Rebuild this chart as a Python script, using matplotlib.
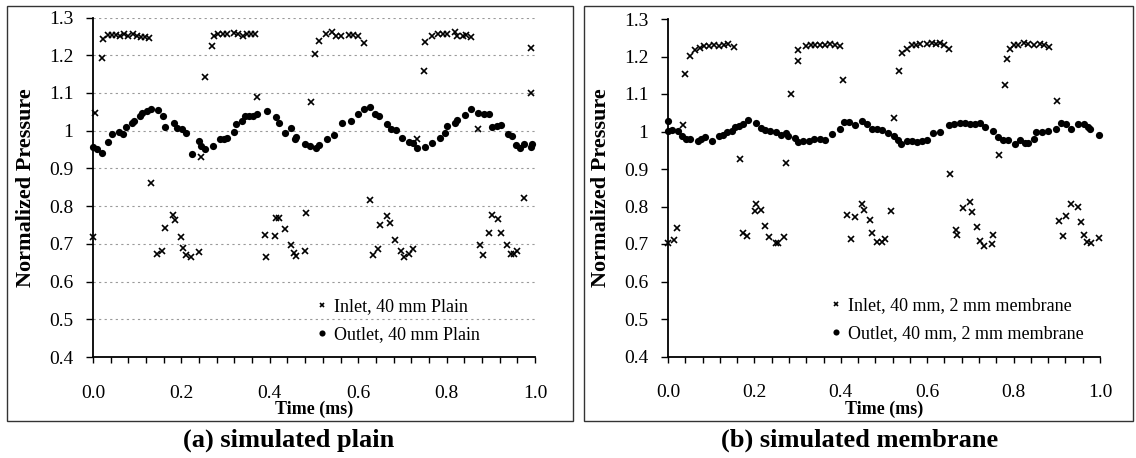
import matplotlib
matplotlib.use("Agg")
import matplotlib.pyplot as plt
from matplotlib.patches import Rectangle
import numpy as np

# ---------------- data ----------------
plain_inlet_t = [0.000, 0.005, 0.020, 0.023, 0.034, 0.043, 0.053, 0.062, 0.070, 0.079, 0.090, 0.100,
                 0.109, 0.117, 0.126, 0.132, 0.145, 0.156, 0.164, 0.181, 0.185, 0.198, 0.204, 0.211,
                 0.222, 0.240, 0.244, 0.254, 0.269, 0.274, 0.283, 0.294, 0.304, 0.318, 0.328, 0.339,
                 0.349, 0.358, 0.367, 0.372, 0.390, 0.392, 0.411, 0.415, 0.420, 0.434, 0.447, 0.454,
                 0.460, 0.479, 0.483, 0.493, 0.502, 0.512, 0.527, 0.540, 0.550, 0.560, 0.580, 0.589,
                 0.600, 0.614, 0.627, 0.634, 0.644, 0.649, 0.665, 0.671, 0.684, 0.696, 0.704, 0.716,
                 0.723, 0.734, 0.748, 0.752, 0.766, 0.781, 0.791, 0.800, 0.818, 0.823, 0.838, 0.845,
                 0.855, 0.872, 0.876, 0.882, 0.895, 0.902, 0.916, 0.922, 0.936, 0.946, 0.953, 0.960,
                 0.974, 0.991, 0.992]
plain_inlet_p = [0.717, 1.046, 1.192, 1.243, 1.254, 1.254, 1.254, 1.252, 1.256, 1.252, 1.256, 1.250,
                 1.249, 1.248, 1.245, 0.862, 0.673, 0.681, 0.742, 0.777, 0.762, 0.717, 0.689, 0.671,
                 0.666, 0.678, 0.930, 1.141, 1.225, 1.252, 1.255, 1.256, 1.255, 1.259, 1.255, 1.252,
                 1.255, 1.256, 1.256, 1.088, 0.724, 0.666, 0.721, 0.768, 0.768, 0.740, 0.697, 0.677,
                 0.669, 0.680, 0.782, 1.075, 1.203, 1.239, 1.255, 1.261, 1.252, 1.252, 1.254, 1.254,
                 1.252, 1.232, 0.817, 0.671, 0.686, 0.749, 0.773, 0.755, 0.710, 0.682, 0.664, 0.673,
                 0.687, 0.979, 1.157, 1.234, 1.252, 1.256, 1.256, 1.256, 1.261, 1.252, 1.252, 1.254,
                 1.248, 1.004, 0.697, 0.671, 0.728, 0.777, 0.766, 0.730, 0.696, 0.673, 0.673, 0.681,
                 0.822, 1.099, 1.219]

plain_outlet_t = [0.000, 0.010, 0.020, 0.035, 0.043, 0.058, 0.069, 0.074, 0.089, 0.092, 0.106, 0.111,
                  0.123, 0.132, 0.146, 0.158, 0.164, 0.183, 0.191, 0.201, 0.211, 0.225, 0.240, 0.245,
                  0.254, 0.271, 0.287, 0.296, 0.304, 0.319, 0.324, 0.336, 0.343, 0.354, 0.363, 0.372,
                  0.394, 0.413, 0.420, 0.434, 0.447, 0.456, 0.460, 0.480, 0.490, 0.505, 0.512, 0.529,
                  0.545, 0.563, 0.583, 0.600, 0.614, 0.627, 0.638, 0.648, 0.666, 0.674, 0.686, 0.698,
                  0.716, 0.723, 0.734, 0.750, 0.766, 0.785, 0.797, 0.800, 0.819, 0.823, 0.842, 0.855,
                  0.872, 0.885, 0.896, 0.902, 0.913, 0.923, 0.940, 0.947, 0.958, 0.966, 0.976, 0.990,
                  0.993]
plain_outlet_p = [0.957, 0.952, 0.941, 0.970, 0.990, 0.997, 0.990, 1.011, 1.020, 1.026, 1.039, 1.048,
                  1.051, 1.057, 1.054, 1.039, 1.011, 1.019, 1.008, 1.004, 0.993, 0.937, 0.972, 0.959,
                  0.952, 0.959, 0.977, 0.977, 0.980, 0.997, 1.017, 1.026, 1.039, 1.039, 1.039, 1.043,
                  1.052, 1.035, 1.021, 0.993, 1.006, 0.977, 0.983, 0.964, 0.959, 0.955, 0.962, 0.977,
                  0.988, 1.021, 1.026, 1.043, 1.057, 1.063, 1.043, 1.039, 1.017, 1.004, 1.001, 0.981,
                  0.971, 0.968, 0.955, 0.957, 0.968, 0.981, 0.995, 1.012, 1.021, 1.028, 1.042, 1.057,
                  1.048, 1.045, 1.045, 1.010, 1.012, 1.014, 0.990, 0.986, 0.961, 0.955, 0.965, 0.957,
                  0.965]

memb_inlet_t = [0.000, 0.015, 0.021, 0.034, 0.040, 0.052, 0.063, 0.073, 0.083, 0.094, 0.106, 0.117,
                0.129, 0.140, 0.152, 0.166, 0.173, 0.184, 0.202, 0.204, 0.216, 0.224, 0.233, 0.251,
                0.255, 0.268, 0.274, 0.285, 0.301, 0.302, 0.319, 0.331, 0.341, 0.353, 0.364, 0.376,
                0.387, 0.397, 0.405, 0.414, 0.424, 0.434, 0.449, 0.453, 0.467, 0.472, 0.484, 0.495,
                0.502, 0.516, 0.522, 0.535, 0.541, 0.553, 0.564, 0.574, 0.583, 0.599, 0.610, 0.620,
                0.630, 0.639, 0.651, 0.653, 0.667, 0.668, 0.682, 0.698, 0.703, 0.716, 0.722, 0.732,
                0.749, 0.753, 0.766, 0.779, 0.784, 0.792, 0.801, 0.811, 0.824, 0.834, 0.847, 0.861,
                0.870, 0.883, 0.900, 0.905, 0.915, 0.921, 0.932, 0.950, 0.955, 0.964, 0.969, 0.979,
                0.998]
memb_inlet_p = [0.703, 0.711, 0.742, 1.017, 1.153, 1.202, 1.218, 1.224, 1.228, 1.228, 1.230, 1.228,
                1.230, 1.233, 1.225, 0.926, 0.730, 0.722, 0.788, 0.806, 0.792, 0.749, 0.718, 0.702,
                0.702, 0.718, 0.917, 1.101, 1.188, 1.217, 1.228, 1.230, 1.230, 1.232, 1.232, 1.234,
                1.232, 1.228, 1.137, 0.777, 0.713, 0.773, 0.806, 0.790, 0.764, 0.730, 0.706, 0.706,
                0.714, 0.789, 1.037, 1.161, 1.210, 1.221, 1.230, 1.232, 1.234, 1.234, 1.237, 1.234,
                1.237, 1.232, 1.221, 0.888, 0.737, 0.724, 0.795, 0.811, 0.786, 0.746, 0.708, 0.696,
                0.699, 0.724, 0.937, 1.123, 1.194, 1.221, 1.230, 1.232, 1.236, 1.234, 1.232, 1.234,
                1.230, 1.225, 1.082, 0.762, 0.722, 0.775, 0.806, 0.798, 0.759, 0.724, 0.706, 0.702,
                0.717]

memb_outlet_t = [0.000, 0.000, 0.009, 0.023, 0.032, 0.042, 0.052, 0.069, 0.077, 0.086, 0.103, 0.117,
                 0.127, 0.137, 0.147, 0.156, 0.164, 0.173, 0.185, 0.204, 0.216, 0.225, 0.235, 0.250,
                 0.262, 0.272, 0.278, 0.293, 0.302, 0.312, 0.326, 0.337, 0.353, 0.364, 0.380, 0.397,
                 0.407, 0.418, 0.432, 0.449, 0.461, 0.472, 0.484, 0.495, 0.510, 0.522, 0.533, 0.540,
                 0.553, 0.564, 0.576, 0.587, 0.599, 0.614, 0.630, 0.651, 0.662, 0.676, 0.688, 0.698,
                 0.711, 0.722, 0.734, 0.753, 0.765, 0.776, 0.788, 0.803, 0.815, 0.826, 0.834, 0.847,
                 0.853, 0.866, 0.880, 0.897, 0.910, 0.921, 0.933, 0.950, 0.962, 0.973, 0.977, 0.998]
memb_outlet_p = [1.028, 1.002, 1.005, 1.001, 0.988, 0.979, 0.979, 0.974, 0.980, 0.986, 0.974, 0.988,
                 0.990, 0.999, 1.001, 1.012, 1.015, 1.021, 1.032, 1.024, 1.010, 1.004, 1.001, 0.999,
                 0.992, 0.995, 0.988, 0.983, 0.971, 0.974, 0.975, 0.979, 0.979, 0.977, 0.993, 1.008,
                 1.026, 1.026, 1.017, 1.028, 1.021, 1.008, 1.006, 1.004, 0.995, 0.988, 0.977, 0.968,
                 0.974, 0.974, 0.972, 0.974, 0.977, 0.995, 0.999, 1.017, 1.020, 1.024, 1.024, 1.021,
                 1.021, 1.024, 1.012, 1.002, 0.986, 0.977, 0.977, 0.968, 0.977, 0.970, 0.970, 0.981,
                 0.999, 0.999, 1.001, 1.008, 1.024, 1.020, 1.008, 1.021, 1.020, 1.012, 1.008, 0.990]

x_ticks = [0.0, 0.2, 0.4, 0.6, 0.8, 1.0]
x_tick_labels = ["0.0", "0.2", "0.4", "0.6", "0.8", "1.0"]
y_ticks = [0.4, 0.5, 0.6, 0.7, 0.8, 0.9, 1.0, 1.1, 1.2, 1.3]
y_tick_labels = ["0.4", "0.5", "0.6", "0.7", "0.8", "0.9", "1", "1.1", "1.2", "1.3"]

plain_labels = ["Inlet, 40 mm Plain", "Outlet, 40 mm Plain"]
memb_labels = ["Inlet, 40 mm, 2 mm membrane", "Outlet, 40 mm, 2 mm membrane"]
captions = ["(a) simulated plain", "(b) simulated membrane"]
xlabel = "Time (ms)"
ylabel = "Normalized Pressure"

# ---------------- figure ----------------
W, H = 1136, 458
plt.rcParams['font.family'] = ['Liberation Serif', 'DejaVu Serif']
fig = plt.figure(figsize=(W / 100, H / 100), dpi=100)


def fx(px):
    return px / W


def fy(py):
    return 1 - py / H


def make_panel(rect_px, frame_px, it, ip, ot, op, labels, caption, grid, leg_px, cap_px, ylab_px):
    x0, y0, x1, y1 = rect_px
    ax = fig.add_axes([fx(x0), fy(y1), (x1 - x0) / W, (y1 - y0) / H])
    ax.set_xlim(0, 1.0)
    ax.set_ylim(0.4, 1.3)
    ax.spines['top'].set_visible(False)
    ax.spines['right'].set_visible(False)
    for s in ('left', 'bottom'):
        ax.spines[s].set_linewidth(1.3)
        ax.spines[s].set_color('black')
    ax.set_xticks(x_ticks)
    ax.set_xticklabels(x_tick_labels)
    ax.set_xticks(np.arange(0, 1.0001, 0.04), minor=True)
    ax.set_yticks(y_ticks)
    ax.set_yticklabels(y_tick_labels)
    ax.tick_params(axis='x', which='both', direction='out', length=4, width=1.0, pad=16, labelsize=14)
    ax.tick_params(axis='y', which='major', direction='out', length=5, width=1.0, pad=9, labelsize=14)
    if grid:
        ax.grid(axis='y', which='major', color='#9a9a9a', linestyle=(0, (2, 3)), linewidth=0.8)
        ax.set_axisbelow(True)
    ax.plot(it, ip, linestyle='none', marker='x', markersize=4.2, markeredgewidth=1.2,
            color='black', label=labels[0], clip_on=False, zorder=3)
    ax.plot(ot, op, linestyle='none', marker='o', markersize=5.2, markeredgewidth=0,
            color='black', label=labels[1], clip_on=False, zorder=3)
    fig.text(fx((x0 + x1) / 2), fy(409), xlabel, ha='center', va='center',
             fontsize=13, fontweight='bold')
    fig.text(fx(ylab_px), fy((y0 + y1) / 2), ylabel, rotation=90, ha='center', va='center',
             fontsize=16, fontweight='bold')
    ax.legend(loc='upper left', bbox_to_anchor=(fx(leg_px[0]), fy(leg_px[1])),
              bbox_transform=fig.transFigure, frameon=False, fontsize=leg_px[2],
              handlelength=0.6, handletextpad=0.35, labelspacing=0.6, borderpad=0,
              borderaxespad=0, markerscale=0.85)
    fx0, fy0, fx1, fy1 = frame_px
    fig.patches.append(Rectangle((fx(fx0), fy(fy1)), (fx1 - fx0) / W, (fy1 - fy0) / H,
                                 transform=fig.transFigure, fill=False, edgecolor='#333333',
                                 linewidth=1.0))
    fig.text(fx(cap_px[0]), fy(cap_px[1]), caption, ha='center', va='center',
             fontsize=19, fontweight='bold')
    return ax


make_panel((93, 17.5, 535, 357), (7, 6, 573, 421), plain_inlet_t, plain_inlet_p,
           plain_outlet_t, plain_outlet_p, plain_labels, captions[0], True,
           (317, 298, 13), (289, 440), 26)
make_panel((668, 19, 1100, 356.5), (584, 6, 1133, 421), memb_inlet_t, memb_inlet_p,
           memb_outlet_t, memb_outlet_p, memb_labels, captions[1], False,
           (831, 297, 13), (860, 440), 601)

fig.savefig("out.png", dpi=100)
